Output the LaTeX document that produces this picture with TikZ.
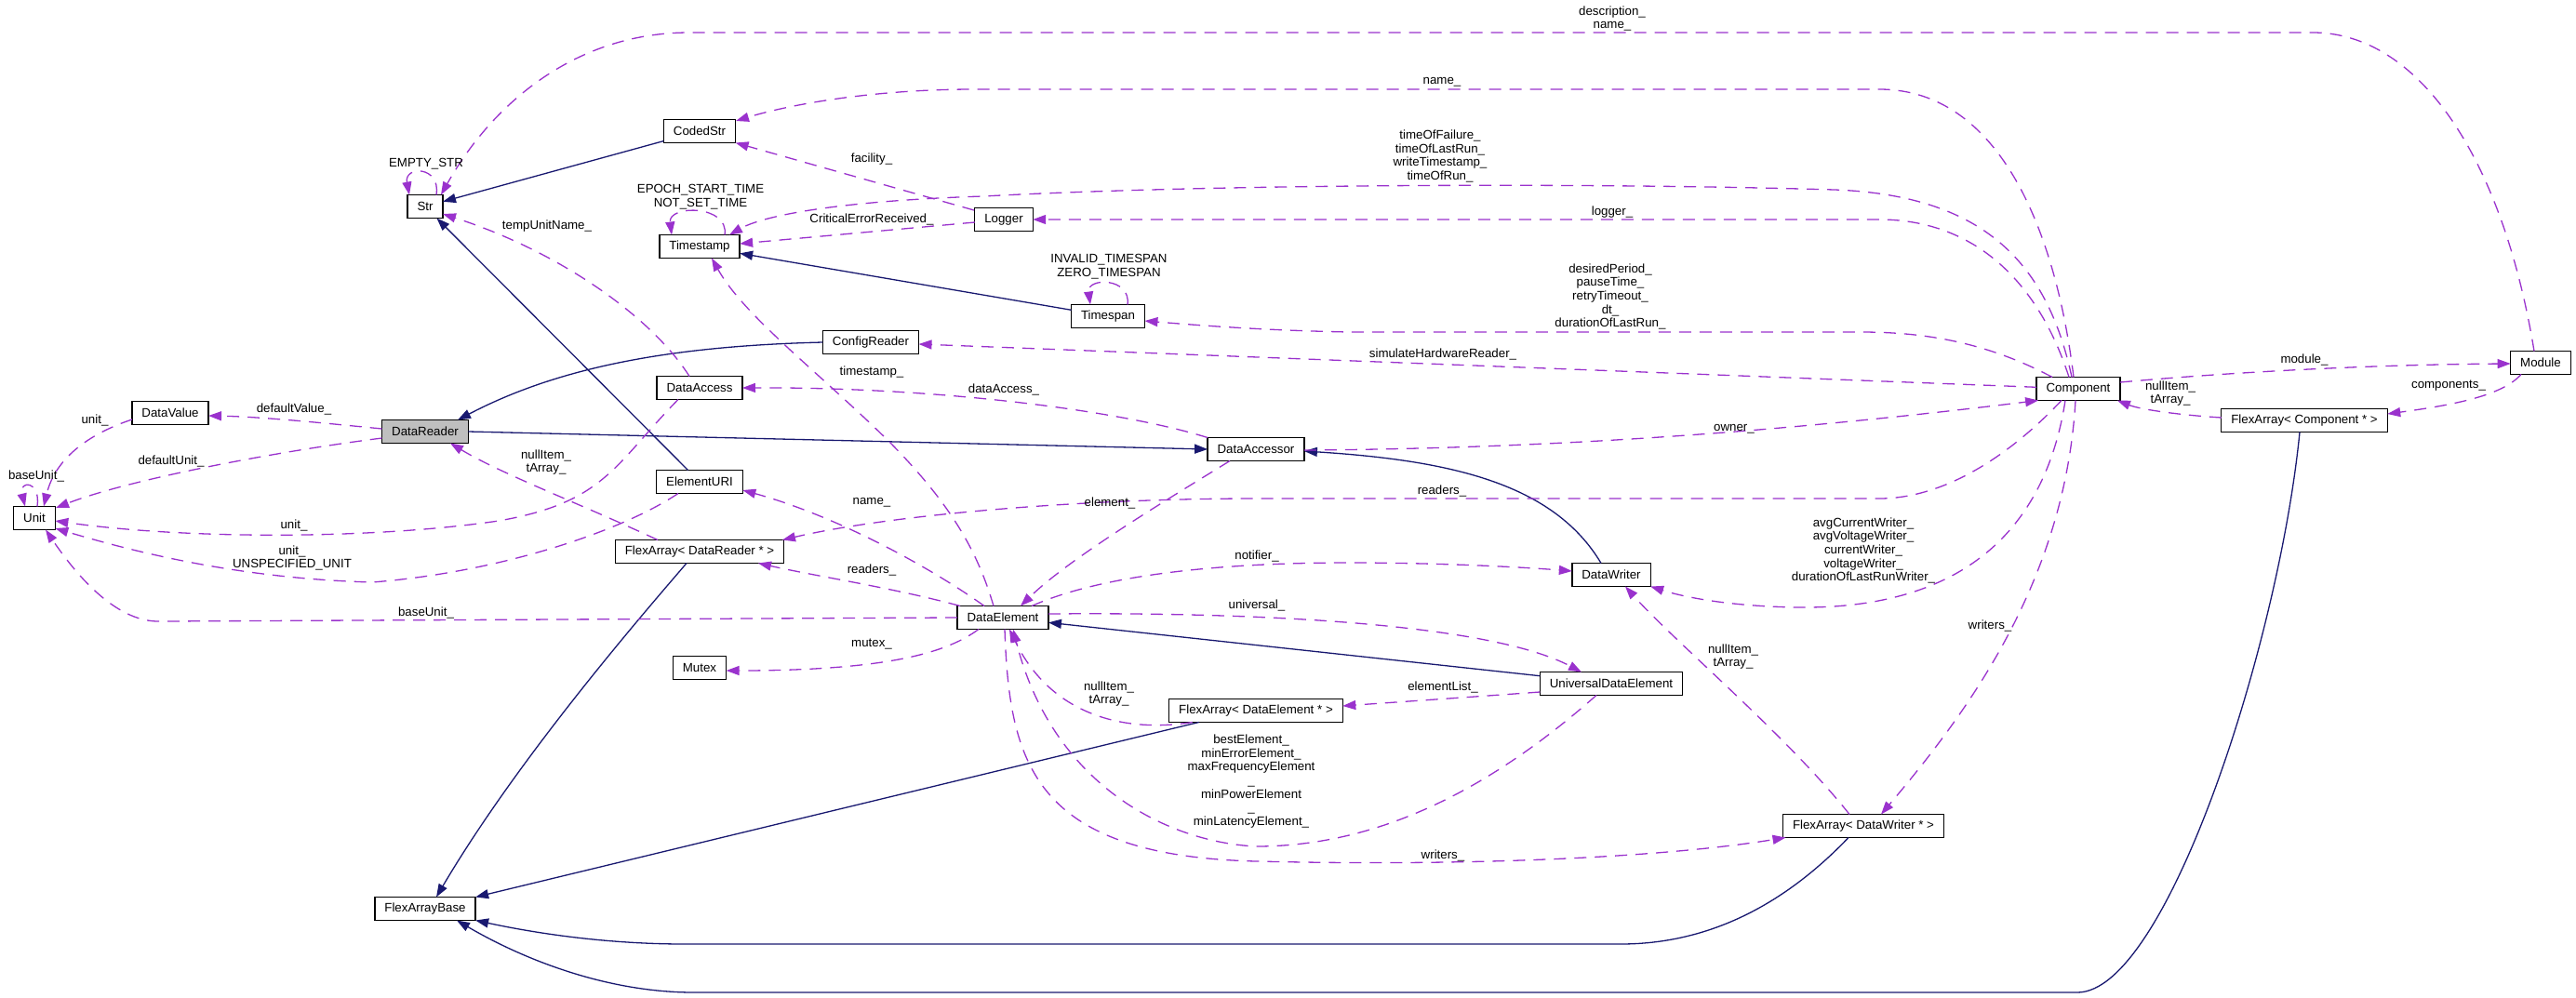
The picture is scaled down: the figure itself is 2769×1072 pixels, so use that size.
\documentclass[tikz,border=0pt]{standalone}
\usepackage{fontspec}
\setmainfont{Liberation Sans}
\usetikzlibrary{arrows.meta,calc}
\definecolor{usecol}{HTML}{9A32CD}
\definecolor{inhcol}{HTML}{191970}
\definecolor{mainfill}{HTML}{BFBFBF}
\begin{document}
\begin{tikzpicture}[x=1pt,y=-1pt,
  font=\fontsize{13.3}{14.7}\selectfont,
  cls/.style={draw=black, line width=1.3pt, fill=white, inner xsep=10.5pt, inner ysep=0pt, minimum height=25pt, outer sep=0pt},
  lbl/.style={inner sep=0pt, align=center},
  inh/.style={draw=inhcol, line width=1.3pt, line join=round, -{Triangle[length=14pt,width=10pt]}},
  use/.style={draw=usecol, line width=1.3pt, line join=round, dash pattern=on 13pt off 9pt, -{Triangle[length=14pt,width=10pt]}}]
\useasboundingbox (0,0) rectangle (2769,1072);

% classes
\node[cls] (Str) at (457,222) {Str};
\node[cls] (CodedStr) at (752,141) {CodedStr};
\node[cls] (Timestamp) at (752,265) {Timestamp};
\node[cls] (Logger) at (1079,236) {Logger};
\node[cls] (Timespan) at (1191,340) {Timespan};
\node[cls] (ConfigReader) at (936,368) {ConfigReader};
\node[cls] (DataAccess) at (752,417) {DataAccess};
\node[cls,fill=mainfill] (DataReader) at (457,464) {DataReader};
\node[cls] (DataValue) at (183,444) {DataValue};
\node[cls] (Unit) at (37,557) {Unit};
\node[cls] (ElementURI) at (752,518) {ElementURI};
\node[cls] (DataAccessor) at (1350,483) {DataAccessor};
\node[cls] (FADR) at (752,593) {FlexArray< DataReader * >};
\node[cls] (DataElement) at (1078,664) {DataElement};
\node[cls] (Mutex) at (752,718) {Mutex};
\node[cls] (DataWriter) at (1732,618) {DataWriter};
\node[cls] (UDE) at (1732,735) {UniversalDataElement};
\node[cls] (FADE) at (1350,764) {FlexArray< DataElement * >};
\node[cls] (FADW) at (2003,888) {FlexArray< DataWriter * >};
\node[cls] (FAB) at (457,977) {FlexArrayBase};
\node[cls] (Component) at (2234,418) {Component};
\node[cls] (Module) at (2731,390) {Module};
\node[cls] (FAC) at (2477,452) {FlexArray< Component * >};

% inheritance
\draw[inh] (CodedStr) -- (Str);
\draw[inh] (ElementURI) -- (Str);
\draw[inh] (ConfigReader.west) .. controls (720,372) and (600,395) .. ($(DataReader)+(35,-12.5)$);
\draw[inh] (DataReader.east) -- (DataAccessor.west);
\draw[inh] (Timespan) -- (Timestamp);
\draw[inh] ($(DataWriter)+(-11,-12.5)$) .. controls (1670,520) and (1560,495) .. ($(DataAccessor.east)+(0,2)$);
\draw[inh] (UDE) -- (DataElement);
\draw[inh] ($(FADR)+(-14,12.5)$) .. controls (700,650) and (560,810) .. ($(FAB)+(12,-12.5)$);
\draw[inh] ($(FADE.south west)+(32,0)$) -- (FAB.north east);
\draw[inh] ($(FADW)+(-16,12.5)$) .. controls (1930,960) and (1850,1015) .. (1742,1015) -- (736,1015) .. controls (640,1015) and (560,1000) .. (FAB.south east);
\draw[inh] ($(FAC)+(-5,12.5)$) .. controls (2450,689) and (2329,1067) .. (2233,1067) -- (746,1067) .. controls (650,1067) and (560,1030) .. ($(FAB)+(34,12.5)$);

% usage
\draw[use] ($(Str)+(12,-12.5)$) .. controls (474,178) and (434,178) .. ($(Str)+(-17,-12.5)$);
\draw[use] ($(Module.north)+(-7,0)$) .. controls (2690,170) and (2600,35) .. (2486,35) -- (741,35) .. controls (620,35) and (530,110) .. ($(Str)+(17,-12.5)$);
\draw[use] ($(Component)+(-5,-12.5)$) .. controls (2210,250) and (2150,96) .. (2020,96) -- (1047,96) .. controls (940,96) and (850,112) .. ($(CodedStr)+(39,-11)$);
\draw[use] ($(Component)+(-7,-12.5)$) .. controls (2200,280) and (2130,210) .. (1972,204) .. controls (1700,196) and (1300,198) .. (1057,211) .. controls (900,216) and (820,232) .. ($(Timestamp)+(32,-12.5)$);
\draw[use] ($(Component)+(-10,-12.5)$) .. controls (2190,300) and (2120,236) .. (2020,236) -- (Logger.east);
\draw[use] ($(Component)+(-28,-12.5)$) .. controls (2130,365) and (2060,357) .. (2000,357) -- (1450,357) .. controls (1350,355) and (1280,349) .. ($(Timespan.east)+(0,5)$);
\draw[use] (Component) -- (ConfigReader);
\draw[use] ($(DataAccessor.east)+(0,1)$) .. controls (1700,482) and (1950,460) .. ($(Component.south west)+(2,0)$);
\draw[use] ($(Component)+(-18,12.5)$) .. controls (2160,490) and (2090,536) .. (2020,536) -- (1350,536) .. controls (1150,536) and (950,555) .. ($(FADR)+(89,-12.5)$);
\draw[use] ($(Component)+(-14,12.5)$) .. controls (2200,560) and (2120,655) .. (1933,653) .. controls (1860,652) and (1810,642) .. (DataWriter.south east);
\draw[use] ($(Component)+(-3,12.5)$) .. controls (2220,620) and (2120,760) .. ($(FADW)+(19,-12.5)$);
\draw[use] ($(Module)+(-21,12.5)$) .. controls (2690,425) and (2640,435) .. ($(FAC.east)+(0,-7)$);
\draw[use] ($(Component.east)+(0,-7)$) .. controls (2400,400) and (2550,392) .. ($(Module.west)+(0,1)$);
\draw[use] ($(FAC.west)+(0,-3)$) .. controls (2340,446) and (2300,440) .. ($(Component.south east)+(-3,0)$);
\draw[use] ($(Logger)+(-32,-10)$) -- (CodedStr.south east);
\draw[use] ($(Logger.west)+(0,3)$) -- ($(Timestamp.east)+(0,-3)$);
\draw[use] ($(DataAccess)+(-11,-12.5)$) .. controls (700,340) and (600,270) .. ($(Str.east)+(0,8)$);
\draw[use] ($(DataAccess)+(-23,12.5)$) .. controls (660,500) and (650,540) .. (536,560) .. controls (400,580) and (200,580) .. ($(Unit.east)+(0,3)$);
\draw[use] ($(ElementURI)+(-23,12.5)$) .. controls (670,570) and (540,615) .. (400,626) .. controls (260,622) and (150,595) .. ($(Unit.east)+(0,11)$);
\draw[use] (DataElement.west) -- (170,668) .. controls (130,668) and (90,630) .. ($(Unit)+(12,12.5)$);
\draw[use] ($(Unit)+(3,-12.5)$) .. controls (44,516) and (20,516) .. ($(Unit)+(-10,-12.5)$);
\draw[use] ($(DataValue.west)+(0,7)$) .. controls (100,465) and (60,490) .. ($(Unit)+(10,-12.5)$);
\draw[use] ($(DataReader.west)+(0,-3)$) .. controls (350,455) and (280,448) .. ($(DataValue.east)+(0,3)$);
\draw[use] ($(DataReader.west)+(0,7)$) .. controls (300,485) and (140,515) .. ($(Unit)+(23,-11)$);
\draw[use] ($(FADR)+(-45,-12.5)$) .. controls (620,540) and (540,510) .. ($(DataReader)+(27,12.5)$);
\draw[use] ($(DataElement)+(-20,-12.5)$) .. controls (1000,610) and (900,555) .. ($(ElementURI.east)+(0,9)$);
\draw[use] ($(DataElement.north west)+(3,0)$) .. controls (960,632) and (880,620) .. ($(FADR)+(63,12.5)$);
\draw[use] ($(DataElement)+(-26,12.5)$) .. controls (1020,700) and (960,721) .. ($(Mutex.east)+(0,3)$);
\draw[use] ($(DataElement)+(-10,-12.5)$) .. controls (1050,590) and (1020,540) .. (956,475) .. controls (880,400) and (800,340) .. ($(Timestamp)+(13,12.5)$);
\draw[use] ($(DataAccessor)+(-28,12.5)$) .. controls (1250,540) and (1150,600) .. ($(DataElement)+(19,-12.5)$);
\draw[use] (DataAccessor.north west) .. controls (1200,440) and (1000,416) .. (DataAccess.east);
\draw[use] ($(DataElement)+(31,-12.5)$) .. controls (1180,620) and (1300,605) .. (1450,605) .. controls (1550,605) and (1640,610) .. ($(DataWriter.west)+(0,-4)$);
\draw[use] ($(DataElement.east)+(0,-4)$) .. controls (1350,658) and (1600,670) .. ($(UDE)+(-32,-12.5)$);
\draw[use] ($(FADE.south west)+(25,0)$) .. controls (1210,788) and (1130,770) .. ($(DataElement)+(7,12.5)$);
\draw[use] ($(UDE.west)+(0,9)$) .. controls (1600,748) and (1500,755) .. ($(FADE.east)+(0,-5)$);
\draw[use] ($(UDE)+(-16,12.5)$) .. controls (1600,850) and (1480,910) .. (1350,910) .. controls (1250,905) and (1130,840) .. ($(DataElement)+(11,12.5)$);
\draw[use] ($(DataElement)+(2,12.5)$) .. controls (1085,820) and (1110,920) .. (1350,926) .. controls (1600,932) and (1800,920) .. ($(FADW.south west)+(3,0)$);
\draw[use] ($(FADW)+(-15,-12.5)$) .. controls (1920,790) and (1800,690) .. ($(DataWriter)+(15,12.5)$);
\draw[use] ($(Timespan)+(21,-12.5)$) .. controls (1216,298) and (1168,298) .. ($(Timespan)+(-19,-12.5)$);
\draw[use] ($(Timestamp)+(27,-12.5)$) .. controls (784,220) and (718,220) .. ($(Timestamp)+(-30,-12.5)$);

% labels
\node[lbl] (l1) at (458,176) {EMPTY\_STR};
\node[lbl] (l2) at (588,243) {tempUnitName\_};
\node[lbl] (l3) at (102,452) {unit\_};
\node[lbl] (l4) at (316,440) {defaultValue\_};
\node[lbl] (l5) at (184,496) {defaultUnit\_};
\node[lbl] (l6) at (39,512) {baseUnit\_};
\node[lbl] (l7) at (587,497) {nullItem\_\\tArray\_};
\node[lbl] (l8) at (316,565) {unit\_};
\node[lbl] (l9) at (314,600) {unit\_\\UNSPECIFIED\_UNIT};
\node[lbl] (l10) at (458,659) {baseUnit\_};
\node[lbl] (l11) at (753,212) {EPOCH\_START\_TIME\\NOT\_SET\_TIME};
\node[lbl] (l12) at (937,171) {facility\_};
\node[lbl] (l13) at (937,236) {CriticalErrorReceived\_};
\node[lbl] (l14) at (1192,287) {INVALID\_TIMESPAN\\ZERO\_TIMESPAN};
\node[lbl] (l15) at (937,400) {timestamp\_};
\node[lbl] (l16) at (1079,419) {dataAccess\_};
\node[lbl] (l17) at (937,540) {name\_};
\node[lbl] (l18) at (1193,541) {element\_};
\node[lbl] (l19) at (937,613) {readers\_};
\node[lbl] (l20) at (937,693) {mutex\_};
\node[lbl] (l21) at (1351,598) {notifier\_};
\node[lbl] (l22) at (1351,651) {universal\_};
\node[lbl] (l23) at (1192,746) {nullItem\_\\tArray\_};
\node[lbl] (l24) at (1345,840) {bestElement\_\\minErrorElement\_\\maxFrequencyElement\\\_\\minPowerElement\\\_\\minLatencyElement\_};
\node[lbl] (l25) at (1733,20) {description\_\\name\_};
\node[lbl] (l26) at (1550,88) {name\_};
\node[lbl] (l27) at (1548,168) {timeOfFailure\_\\timeOfLastRun\_\\writeTimestamp\_\\timeOfRun\_};
\node[lbl] (l28) at (1733,228) {logger\_};
\node[lbl] (l29) at (1731,319) {desiredPeriod\_\\pauseTime\_\\retryTimeout\_\\dt\_\\durationOfLastRun\_};
\node[lbl] (l30) at (1551,381) {simulateHardwareReader\_};
\node[lbl] (l31) at (1864,461) {owner\_};
\node[lbl] (l32) at (1550,528) {readers\_};
\node[lbl] (l33) at (2003,592) {avgCurrentWriter\_\\avgVoltageWriter\_\\currentWriter\_\\voltageWriter\_\\durationOfLastRunWriter\_};
\node[lbl] (l34) at (1863,706) {nullItem\_\\tArray\_};
\node[lbl] (l35) at (1551,739) {elementList\_};
\node[lbl] (l36) at (1551,920) {writers\_};
\node[lbl] (l37) at (2139,673) {writers\_};
\node[lbl] (l38) at (2477,387) {module\_};
\node[lbl] (l39) at (2333,423) {nullItem\_\\tArray\_};
\node[lbl] (l40) at (2632,415) {components\_};
\end{tikzpicture}
\end{document}
